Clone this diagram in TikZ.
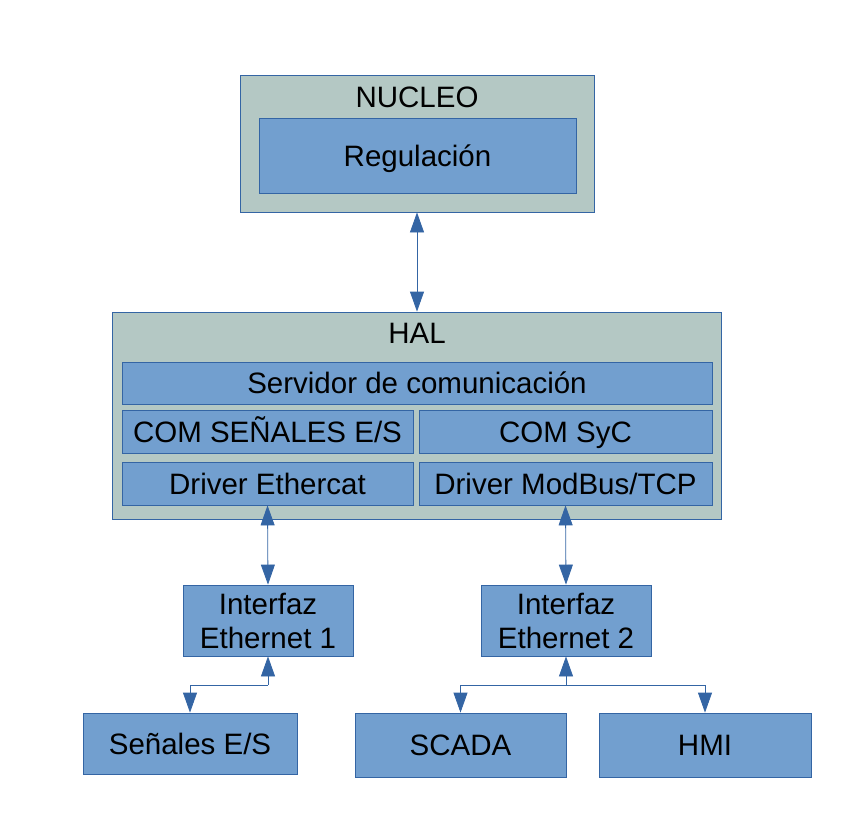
\documentclass[tikz,border=0pt]{standalone}
\usepackage{fontspec}
\setmainfont{Liberation Sans}
\usetikzlibrary{arrows.meta}
\definecolor{outerfill}{HTML}{B4C8C4}
\definecolor{innerfill}{HTML}{729FCF}
\definecolor{edge}{HTML}{3465A4}
\tikzset{
  outerbox/.style={draw=edge, fill=outerfill, line width=0.8pt, rectangle, inner sep=0pt},
  innerbox/.style={draw=edge, fill=innerfill, line width=0.8pt, rectangle, inner sep=0pt, align=center, font=\fontsize{29.5}{34}\selectfont},
  oneline/.style={innerbox, text height=21pt, text depth=0pt},
  lbl/.style={inner sep=0pt, anchor=base, font=\fontsize{29.5}{34}\selectfont},
  conn/.style={draw=edge, line width=0.8pt},
  biarrow/.style={conn, {Triangle[length=20pt,width=14pt]}-{Triangle[length=20pt,width=14pt]}},
  onearrow/.style={conn, -{Triangle[length=20pt,width=14pt]}},
  backarrow/.style={conn, {Triangle[length=20pt,width=14pt]}-}
}
\begin{document}
\begin{tikzpicture}[x=1pt,y=-1pt]
\useasboundingbox (0,0) rectangle (857,812);
% NUCLEO
\node[outerbox, minimum width=354pt, minimum height=137pt] (nucleo) at (417,143.5) {};
\node[lbl] (nucleolbl) at (417,107) {NUCLEO};
\node[oneline, minimum width=317pt, minimum height=75pt] (reg) at (417.5,155.5) {Regulación};
% HAL
\node[outerbox, minimum width=609pt, minimum height=207pt] (hal) at (416.5,415.5) {};
\node[lbl] (hallbl) at (417,343) {HAL};
\node[oneline, minimum width=590pt, minimum height=42pt] (serv) at (417,383) {Servidor de comunicación};
\node[oneline, minimum width=291pt, minimum height=43pt] (comes) at (267.5,431.5) {COM SEÑALES E/S};
\node[oneline, minimum width=293pt, minimum height=43pt] (comsyc) at (565.5,431.5) {COM SyC};
\node[oneline, minimum width=291pt, minimum height=43pt] (drv1) at (267.5,483.5) {Driver Ethercat};
\node[oneline, minimum width=293pt, minimum height=43pt] (drv2) at (565.5,483.5) {Driver ModBus/TCP};
% Interfaces
\node[innerbox, minimum width=170pt, minimum height=71pt] (if1) at (268,620.5) {Interfaz\\Ethernet 1};
\node[innerbox, minimum width=170pt, minimum height=71pt] (if2) at (566,620.5) {Interfaz\\Ethernet 2};
% Bottom
\node[oneline, minimum width=214pt, minimum height=61pt] (sen) at (190,743.5) {Señales E/S};
\node[oneline, minimum width=211pt, minimum height=64pt] (scada) at (460.5,745) {SCADA};
\node[oneline, minimum width=212pt, minimum height=64pt] (hmi) at (705,745) {HMI};
% connectors
\draw[biarrow] (nucleo.south) -- (nucleo.south |- hal.north);
\draw[biarrow] (drv1.south) -- (if1.north);
\draw[biarrow] (drv2.south) -- (if2.north);
\coordinate (j1) at (268,685);
\coordinate (j2) at (566,685);
\draw[backarrow] (if1.south) -- (j1);
\draw[onearrow] (j1) -| (sen.north);
\draw[backarrow] (if2.south) -- (j2);
\draw[onearrow] (j2) -| (scada.north);
\draw[onearrow] (j2) -| (hmi.north);
\end{tikzpicture}
\end{document}
